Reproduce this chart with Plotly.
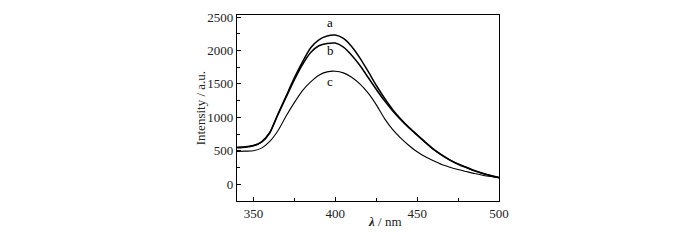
import plotly.graph_objects as go

wavelength = list(range(340, 505, 5))
curve_a = [545, 555, 575, 630, 770, 1050, 1320, 1590, 1830, 2040, 2160, 2215, 2230, 2180, 2060, 1890,
           1690, 1480, 1290, 1120, 975, 850, 740, 630, 525, 440, 365, 305, 255, 205, 165, 130, 100]
curve_b = [555, 560, 580, 635, 770, 1040, 1300, 1560, 1790, 1970, 2070, 2105, 2110, 2050, 1930, 1780,
           1600, 1420, 1250, 1100, 965, 845, 735, 625, 520, 435, 360, 300, 250, 200, 160, 128, 100]
curve_c = [490, 495, 500, 540, 640, 800, 1020, 1220, 1400, 1530, 1630, 1680, 1690, 1665, 1600, 1500,
           1365, 1190, 985, 820, 690, 580, 485, 410, 350, 295, 255, 220, 190, 160, 135, 115, 95]
curve_labels = ["a", "b", "c"]
label_x = [397, 397, 397]
label_y = [2420, 2000, 1530]
x_ticks = [350, 400, 450, 500]
y_ticks = [0, 500, 1000, 1500, 2000, 2500]

FONT = "Liberation Serif"

fig = go.Figure()
for ys, w in zip([curve_a, curve_b, curve_c], [1.5, 1.5, 1.1]):
    fig.add_trace(go.Scatter(x=wavelength, y=ys, mode="lines",
                             line=dict(color="black", width=w, shape="spline", smoothing=0.6),
                             showlegend=False, hoverinfo="skip"))

for t, lx, ly in zip(curve_labels, label_x, label_y):
    fig.add_annotation(x=lx, y=ly, text=t, showarrow=False,
                       font=dict(family=FONT, size=13, color="black"))

axis_common = dict(showline=True, linecolor="black", linewidth=1.2, mirror=True,
                   ticks="inside", ticklen=4, tickcolor="black", showgrid=False, zeroline=False,
                   tickfont=dict(family=FONT, size=13, color="#222"))

fig.update_xaxes(range=[340, 500], tickvals=x_ticks,
                 minor=dict(ticks="inside", ticklen=3, tickcolor="black", dtick=25, tick0=325),
                 **axis_common)
fig.update_yaxes(range=[-250, 2530], tickvals=y_ticks,
                 minor=dict(ticks="inside", ticklen=3, tickcolor="black", dtick=250, tick0=-250),
                 **axis_common)

fig.add_annotation(xref="paper", yref="paper", x=0.565, y=-0.11, xanchor="center", yanchor="middle",
                   text="<b><i>λ</i></b> / nm", showarrow=False,
                   font=dict(family=FONT, size=13, color="#222"))
fig.add_annotation(xref="paper", yref="paper", x=-0.14, y=0.5, xanchor="center", yanchor="middle",
                   textangle=-90, text="Intensity / a.u.", showarrow=False,
                   font=dict(family=FONT, size=13, color="#222"))

fig.update_layout(width=700, height=240, margin=dict(l=237, r=201, t=10, b=39),
                  plot_bgcolor="white", paper_bgcolor="white")

fig.write_html("out.html", config={"displayModeBar": False, "staticPlot": True},
               post_script="document.body.style.margin='0';")
